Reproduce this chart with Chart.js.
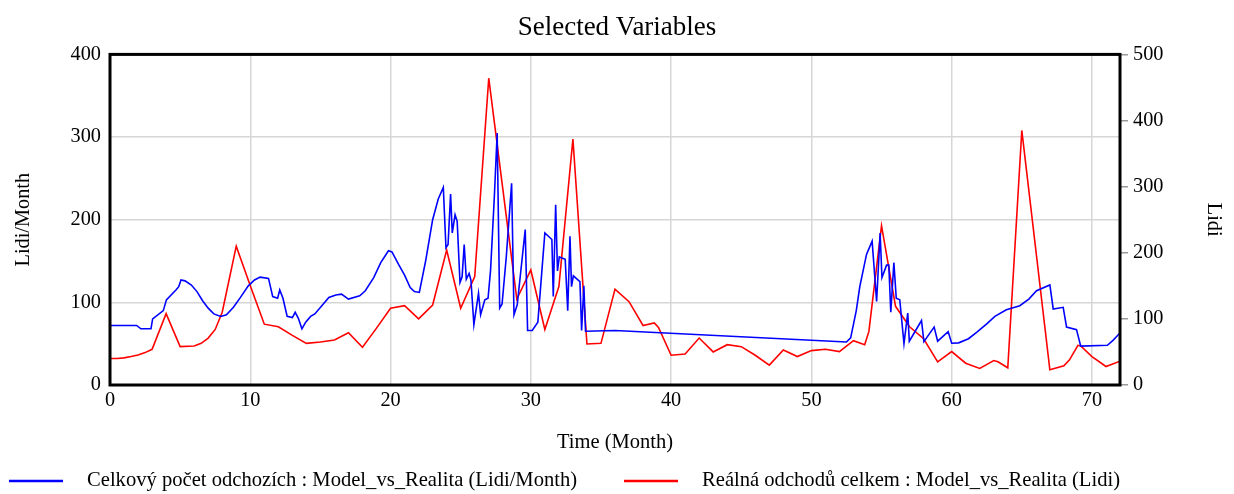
<!DOCTYPE html>
<html>
<head>
<meta charset="utf-8">
<title>Selected Variables</title>
<script src="https://cdn.jsdelivr.net/npm/chart.js@4.4.1/dist/chart.umd.min.js"></script>
<style>
  html, body { margin: 0; padding: 0; background: #fff; }
  #obal { width: 1234px; height: 494px; }
</style>
</head>
<body>
<div id="obal"><canvas id="graf"></canvas></div>
<script>
// Celkový počet odchozích (model) - čas v měsících a hodnoty v Lidi/Month
const casModel = [0, 1.9, 2.2, 2.92, 3.04, 3.8, 4.02, 4.7, 4.9, 5.06, 5.35, 5.8, 6.2, 6.6, 7.0, 7.4, 7.9, 8.3, 8.8, 9.3,
  9.86, 10.3, 10.7, 11.3, 11.6, 11.95, 12.1, 12.33, 12.63, 13.0, 13.2, 13.42, 13.68, 13.95, 14.3, 14.6, 15.1, 15.6, 16.1, 16.5,
  17.0, 17.8, 18.2, 18.8, 19.3, 19.85, 20.1, 20.6, 21.0, 21.4, 21.7, 22.05, 22.5, 23.0, 23.4, 23.76, 23.95, 24.1, 24.28, 24.4,
  24.6, 24.75, 24.95, 25.1, 25.25, 25.4, 25.6, 25.73, 25.94, 26.27, 26.42, 26.72, 26.95, 27.13, 27.4, 27.6, 27.78, 27.95, 28.25, 28.63,
  28.8, 29.03, 29.6, 29.77, 30.1, 30.5, 31.0, 31.5, 31.6, 31.77, 31.9, 32.03, 32.45, 32.63, 32.79, 32.9, 33.03, 33.5, 33.62, 33.78,
  33.9, 36, 52.5, 52.8, 53.2, 53.45, 53.93, 54.33, 54.65, 54.9, 55.03, 55.36, 55.52, 55.66, 55.88, 56.05, 56.3, 56.6, 56.87, 56.98,
  57.85, 58.02, 58.75, 59.0, 59.75, 60.0, 60.5, 61.2, 61.8, 62.5, 63.08, 63.9, 64.86, 65.5, 66.05, 67.0, 67.24, 67.95, 68.19, 68.9,
  69.2, 71.1, 71.5, 72];
const odchoziModel = [72, 72, 68, 68, 80, 90, 103, 115, 119, 127, 126, 121, 113, 102, 93, 86, 83, 85, 94, 106,
  120, 127, 130.5, 129, 107, 105, 115, 105, 83, 81.5, 88, 81, 68, 76, 83, 86, 96, 106, 109, 110,
  104, 108, 114, 130, 148, 162.5, 161, 145, 133, 118, 113, 112, 150, 200, 225, 239, 166, 170, 231, 184,
  206, 198, 124, 131, 170, 128, 135, 127, 73, 111, 85, 103, 105, 139, 228, 305, 93, 98, 155, 244,
  85, 97, 188, 66, 66, 76, 184, 176, 107, 218, 138, 155, 152, 90, 180, 119, 132, 125, 66, 120,
  65, 66, 52, 57, 90, 119, 158, 174, 101, 184, 130, 145, 145, 88, 148, 105, 103, 50, 87, 53,
  78, 52.5, 70, 53, 64.6, 50.5, 51, 56, 64, 74, 83, 91, 96, 104, 114, 121, 92, 94, 70, 67,
  47, 48, 54, 63];

// Reálná odchodů celkem - čas v měsících a hodnoty v Lidi
const casRealita = [0, 0.5, 1, 1.5, 2, 2.5, 3, 4, 5, 6, 6.5, 7, 7.5, 8, 9, 10, 11, 12, 13, 14,
  15, 16, 17, 18, 19, 20, 21, 22, 23, 24, 25, 26, 27, 28, 29, 30, 31, 32, 33, 34,
  35, 36, 37, 38, 38.8, 39.1, 40, 41, 42, 43, 44, 45, 46, 47, 48, 49, 50, 51, 52, 53,
  53.8, 54.1, 55, 56, 57, 58, 59, 60, 61, 62, 63, 63.3, 64, 65, 67, 68, 68.4, 69, 69.2, 70,
  71, 72];
const odchodyRealita = [40, 40, 41, 43, 45.5, 49, 54, 108, 58, 59, 63, 71, 84, 110, 210, 150, 92, 88, 75, 63,
  65, 68, 79, 57, 86, 116, 120, 100, 121, 204, 116, 164, 464, 297, 130, 174, 84, 149, 372, 62,
  63, 145, 126, 90, 94, 87, 45, 47, 71, 50, 61, 58, 45, 30, 53, 43, 52, 54, 50.5, 67,
  61, 81, 241, 119, 88, 70, 35, 50.5, 33, 25, 37, 35, 26, 385, 23, 29, 38, 60, 59, 43,
  28, 36];

// popisky os
const tickyCas = [0, 10, 20, 30, 40, 50, 60, 70];
const tickyLevy = [0, 100, 200, 300, 400];
const tickyPravy = [0, 100, 200, 300, 400, 500];

const pismo = '"Liberation Serif", "Times New Roman", serif';

// černý rámeček kolem plochy grafu
const ramecek = {
  id: 'ramecek',
  afterDatasetsDraw(chart) {
    const { ctx, chartArea: a } = chart;
    ctx.save();
    ctx.strokeStyle = '#000';
    ctx.lineWidth = 3;
    ctx.strokeRect(a.left, a.top, a.right - a.left, a.bottom - a.top);
    ctx.restore();
  }
};

// legenda dole: čára v barvě řady a název proměnné
const legendaX = [9, 624];
const legendaDole = {
  id: 'legendaDole',
  afterDraw(chart) {
    const ctx = chart.ctx;
    const y = 481;
    ctx.save();
    ctx.font = '20.6px ' + pismo;
    ctx.textBaseline = 'middle';
    ctx.fillStyle = '#000';
    chart.data.datasets.forEach((ds, i) => {
      const x = legendaX[i];
      ctx.strokeStyle = ds.borderColor;
      ctx.lineWidth = 2.5;
      ctx.beginPath();
      ctx.moveTo(x, y);
      ctx.lineTo(x + 54, y);
      ctx.stroke();
      ctx.fillText(ds.label, x + 78, y);
    });
    ctx.restore();
  }
};

const naBody = (casy, hodnoty) => casy.map((t, i) => ({ x: t, y: hodnoty[i] }));

new Chart(document.getElementById('graf'), {
  type: 'line',
  data: {
    datasets: [
      {
        label: 'Celkový počet odchozích : Model_vs_Realita (Lidi/Month)',
        data: naBody(casModel, odchoziModel),
        borderColor: '#0000ff',
        backgroundColor: '#0000ff',
        borderWidth: 1.6,
        pointRadius: 0,
        tension: 0,
        yAxisID: 'y'
      },
      {
        label: 'Reálná odchodů celkem : Model_vs_Realita (Lidi)',
        data: naBody(casRealita, odchodyRealita),
        borderColor: '#ff0000',
        backgroundColor: '#ff0000',
        borderWidth: 1.6,
        pointRadius: 0,
        tension: 0,
        yAxisID: 'y1'
      }
    ]
  },
  options: {
    responsive: true,
    maintainAspectRatio: false,
    animation: false,
    devicePixelRatio: 1,
    layout: { padding: 0 },
    plugins: {
      legend: { display: false },
      tooltip: { enabled: false },
      title: {
        display: true,
        text: 'Selected Variables',
        color: '#000',
        font: { family: pismo, size: 27, weight: 'normal' },
        padding: { top: 12, bottom: 10 }
      }
    },
    scales: {
      x: {
        type: 'linear',
        min: 0,
        max: 72,
        afterBuildTicks: (s) => { s.ticks = tickyCas.map(v => ({ value: v })); },
        afterFit: (s) => { s.height = 109; },
        grid: { color: '#d6d6d6', lineWidth: 1.5, drawTicks: false },
        border: { display: false },
        ticks: { color: '#000', font: { family: pismo, size: 20.3 }, padding: 3, maxRotation: 0 },
        title: {
          display: true,
          text: 'Time (Month)',
          color: '#000',
          font: { family: pismo, size: 20.5 },
          padding: { top: 0, bottom: 39 }
        }
      },
      y: {
        position: 'left',
        min: 0,
        max: 400,
        afterBuildTicks: (s) => { s.ticks = tickyLevy.map(v => ({ value: v })); },
        afterFit: (s) => { s.width = 110; },
        grid: { color: '#d6d6d6', lineWidth: 1.5, drawTicks: false },
        border: { display: false },
        ticks: { color: '#000', font: { family: pismo, size: 20.3 }, padding: 9 },
        title: {
          display: true,
          text: 'Lidi/Month',
          color: '#000',
          font: { family: pismo, size: 20.3 },
          padding: { top: 11, bottom: 0 }
        }
      },
      y1: {
        position: 'right',
        min: 0,
        max: 500,
        afterBuildTicks: (s) => { s.ticks = tickyPravy.map(v => ({ value: v })); },
        afterFit: (s) => { s.width = 114; },
        grid: { drawOnChartArea: false, color: '#999', lineWidth: 1.5, tickLength: 8 },
        border: { display: false },
        ticks: { color: '#000', font: { family: pismo, size: 20.3 }, padding: 5 },
        title: {
          display: true,
          text: 'Lidi',
          color: '#000',
          font: { family: pismo, size: 20.3 },
          padding: { top: 8, bottom: 0 }
        }
      }
    }
  },
  plugins: [ramecek, legendaDole]
});
</script>
</body>
</html>
